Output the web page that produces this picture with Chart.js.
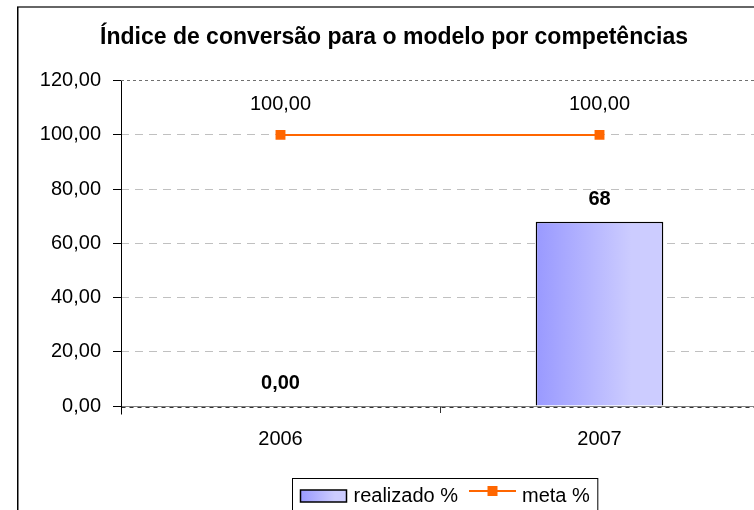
<!DOCTYPE html>
<html><head><meta charset="utf-8">
<script src="https://cdn.jsdelivr.net/npm/chart.js@4/dist/chart.umd.min.js"></script>
<style>html,body{margin:0;padding:0;overflow:hidden;background:#fff;width:754px;height:510px}canvas{display:block}</style>
</head><body>
<canvas id="c" width="795" height="510"></canvas>
<script>
// ---- data ----
const categories = ['2006', '2007'];
const realizado = [0, 68];
const meta = [100, 100];
const realizadoLabels = ['0,00', '68'];
const seriesNames = ['realizado %', 'meta %'];
const titleText = 'Índice de conversão para o modelo por competências';
const yMin = 0, yMax = 120, yStep = 20;

// ---- style ----
const FONT = "'Liberation Sans', Arial, sans-serif";
Chart.defaults.font.family = FONT;
Chart.defaults.color = '#000';
const ORANGE = '#FF6600';
const fmt = v => Number(v).toFixed(2).replace('.', ',');

function makeGrad(ctx, x0, x1) {
  const g = ctx.createLinearGradient(x0, 0, x1, 0);
  g.addColorStop(0, '#9999FF');
  g.addColorStop(0.75, '#CCCCFF');
  g.addColorStop(1, '#CCCCFF');
  return g;
}
function barGradient(c) {
  const chart = c.chart;
  if (!chart.chartArea || !chart.scales.x) return '#AAAAFF';
  const xs = chart.scales.x;
  const cx = xs.getPixelForValue(c.dataIndex);
  const w = (xs.width / categories.length) * 0.4;
  return makeGrad(chart.ctx, cx - w / 2, cx + w / 2);
}

const decor = {
  id: 'decor',
  afterDraw(chart) {
    const ctx = chart.ctx, a = chart.chartArea;
    ctx.save();
    // outer frame
    ctx.strokeStyle = '#666'; ctx.lineWidth = 2;
    ctx.beginPath(); ctx.moveTo(17, 7); ctx.lineTo(chart.width, 7); ctx.stroke();
    ctx.strokeStyle = '#000'; ctx.lineWidth = 1.5;
    ctx.beginPath(); ctx.moveTo(17.75, 7); ctx.lineTo(17.75, chart.height); ctx.stroke();
    // axes
    const L = Math.round(a.left) + 0.5, B = Math.round(a.bottom) + 0.5;
    ctx.lineWidth = 1;
    ctx.strokeStyle = '#808080';
    ctx.beginPath(); ctx.moveTo(L, B); ctx.lineTo(a.right, B); ctx.stroke();
    ctx.strokeStyle = '#333'; ctx.setLineDash([4, 4]);
    ctx.beginPath(); ctx.moveTo(L, B + 1); ctx.lineTo(a.right, B + 1); ctx.stroke();
    ctx.setLineDash([]);
    ctx.strokeStyle = '#000';
    ctx.beginPath(); ctx.moveTo(L, Math.round(a.top)); ctx.lineTo(L, B + 8); ctx.stroke();
    ctx.restore();

    // data labels
    ctx.save();
    ctx.textAlign = 'center'; ctx.textBaseline = 'middle'; ctx.fillStyle = '#000';
    const barMeta = chart.getDatasetMeta(0);
    ctx.font = 'bold 20px ' + FONT;
    barMeta.data.forEach((el, i) => {
      ctx.fillText(realizadoLabels[i], el.x, el.y - 22.5);
    });
    const lineMeta = chart.getDatasetMeta(1);
    ctx.font = '20px ' + FONT;
    lineMeta.data.forEach((el, i) => {
      ctx.fillText(fmt(meta[i]), el.x, el.y - 30);
    });
    ctx.restore();

    // legend
    ctx.save();
    ctx.font = '20px ' + FONT;
    const w1 = ctx.measureText(seriesNames[0]).width;
    const w2 = ctx.measureText(seriesNames[1]).width;
    const boxW = 8 + 46 + 7 + w1 + 11 + 47 + 6 + w2 + 8;
    const bx = Math.round(444.5 - boxW / 2) + 0.5, by = 478.5;
    ctx.fillStyle = '#fff';
    ctx.fillRect(bx, by, boxW, 40);
    ctx.strokeStyle = '#000'; ctx.lineWidth = 1;
    ctx.strokeRect(bx, by, boxW, 40);
    let x = bx + 8;
    const cy = 496;
    ctx.fillStyle = makeGrad(ctx, x, x + 46);
    ctx.fillRect(x, cy - 6, 46, 12);
    ctx.lineWidth = 1.5; ctx.strokeRect(x, cy - 6, 46, 12);
    x += 46 + 7;
    ctx.fillStyle = '#000'; ctx.textAlign = 'left'; ctx.textBaseline = 'middle';
    ctx.fillText(seriesNames[0], x, cy);
    x += w1 + 11;
    ctx.strokeStyle = ORANGE; ctx.lineWidth = 2;
    ctx.beginPath(); ctx.moveTo(x, cy - 5); ctx.lineTo(x + 47, cy - 5); ctx.stroke();
    ctx.fillStyle = ORANGE; ctx.fillRect(x + 23.5 - 5, cy - 5 - 5, 10, 10);
    x += 47 + 6;
    ctx.fillStyle = '#000';
    ctx.fillText(seriesNames[1], x, cy);
    ctx.restore();
  }
};

new Chart(document.getElementById('c'), {
  type: 'bar',
  data: {
    labels: categories,
    datasets: [
      {
        type: 'bar', label: seriesNames[0], data: realizado, order: 2,
        backgroundColor: barGradient, borderColor: '#000', borderWidth: 1.5,
        barPercentage: 0.4, categoryPercentage: 1, borderSkipped: 'bottom'
      },
      {
        type: 'line', label: seriesNames[1], data: meta, order: 1,
        borderColor: ORANGE, borderWidth: 2, backgroundColor: ORANGE,
        pointStyle: 'rect', pointRadius: 7, pointBorderWidth: 0,
        pointBackgroundColor: ORANGE, fill: false, tension: 0
      }
    ]
  },
  options: {
    responsive: false,
    animation: false,
    devicePixelRatio: 1,
    layout: { padding: { left: 29, right: 36, top: 0, bottom: 0 } },
    plugins: {
      legend: { display: false },
      tooltip: { enabled: false },
      title: {
        display: true, text: titleText, color: '#000',
        font: { size: 23, weight: 'bold', family: FONT },
        padding: { top: 24, bottom: 29.1 }
      }
    },
    scales: {
      y: {
        min: yMin, max: yMax,
        ticks: { stepSize: yStep, callback: v => fmt(v), font: { size: 20 }, padding: 12, color: '#000' },
        grid: {
          color: c => (c.tick && c.tick.value === yMax) ? '#707070' : '#C0C0C0',
          tickColor: '#000', tickLength: 8, lineWidth: 1,
          borderDash: c => (c.tick && c.tick.value === yMax) ? [3, 3] : [8, 6]
        },
        border: { display: false, dash: c => (c.tick && c.tick.value === yMax) ? [3, 3] : [8, 6] },
        afterFit: s => { s.width = 92; }
      },
      x: {
        offset: true,
        ticks: { font: { size: 20 }, padding: 14, color: '#000' },
        grid: { offset: true, drawOnChartArea: false, tickLength: 7, tickColor: '#333' },
        border: { display: false },
        afterFit: s => { s.height = 104; }
      }
    }
  },
  plugins: [decor]
});
</script>
</body></html>
